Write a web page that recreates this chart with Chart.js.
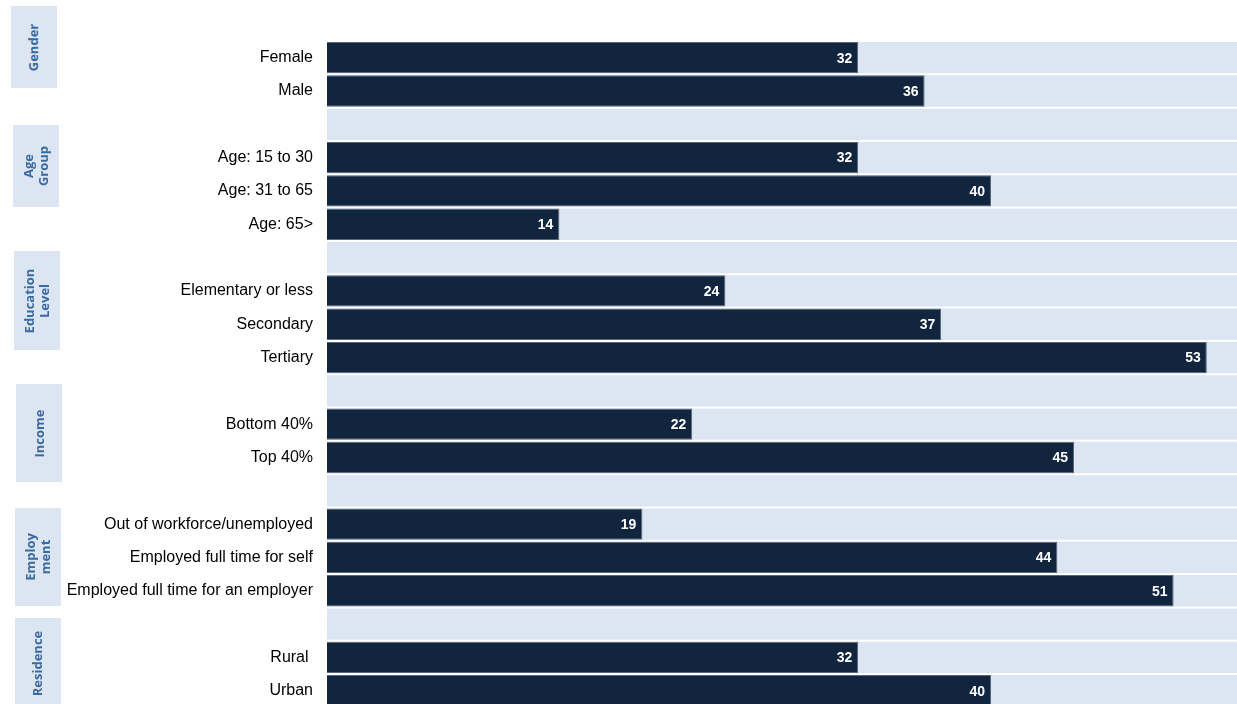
<!DOCTYPE html>
<html>
<head>
<meta charset="utf-8">
<script src="https://cdn.jsdelivr.net/npm/chart.js@4.4.1/dist/chart.umd.min.js"></script>
<style>
    html, body { margin: 0; padding: 0; background: #fff; overflow: hidden; }
    #wrap { position: relative; width: 1237px; height: 704px; overflow: hidden; }
    #chartBox { position: absolute; left: 0; top: 0; width: 1240px; height: 731px; }
    .group {
        position: absolute;
        background: #dce6f2;
        display: flex;
        align-items: center;
        justify-content: center;
    }
    .group span {
        transform: rotate(-90deg);
        white-space: nowrap;
        font-family: 'Open Sans', sans-serif;
        font-weight: 700;
        font-size: 13px;
        line-height: 15px;
        color: #3b6aa0;
        text-align: center;
    }
</style>
</head>
<body>
<div id="wrap">
    <div id="chartBox"><canvas id="chart"></canvas></div>
    <div class="group" style="left:11px;top:6px;width:46px;height:82px"><span>Gender</span></div>
    <div class="group" style="left:13px;top:125px;width:46px;height:82px"><span>Age<br>Group</span></div>
    <div class="group" style="left:14px;top:251px;width:46px;height:99px"><span>Education<br>Level</span></div>
    <div class="group" style="left:16px;top:384px;width:46px;height:98px"><span>Income</span></div>
    <div class="group" style="left:15px;top:508px;width:46px;height:98px"><span>Employ<br>ment</span></div>
    <div class="group" style="left:15px;top:618px;width:46px;height:90px"><span>Residence</span></div>
</div>
<script>
// Categories (blank strings are spacer rows between groups)
const categories = [
    'Female', 'Male', '',
    'Age: 15 to 30', 'Age: 31 to 65', 'Age: 65>', '',
    'Elementary or less', 'Secondary', 'Tertiary', '',
    'Bottom 40%', 'Top 40%', '',
    'Out of workforce/unemployed', 'Employed full time for self', 'Employed full time for an employer', '',
    'Rural ', 'Urban'
];

const values = [
    32, 36, null,
    32, 40, 14, null,
    24, 37, 53, null,
    22, 45, null,
    19, 44, 51, null,
    32, 40
];

const X_MAX = 55;
const bandValues = categories.map(() => X_MAX);

const BAR_COLOR = '#12253f';
const BAND_COLOR = '#dce6f2';

// value labels at the end of each bar
const valueLabels = {
    id: 'valueLabels',
    afterDatasetsDraw(chart) {
        const ctx = chart.ctx;
        const meta = chart.getDatasetMeta(1);
        ctx.save();
        ctx.font = 'bold 14px "Liberation Sans", Arial, sans-serif';
        ctx.fillStyle = '#ffffff';
        ctx.textAlign = 'right';
        ctx.textBaseline = 'middle';
        meta.data.forEach((bar, i) => {
            if (values[i] == null) return;
            ctx.fillText(String(values[i]), bar.x - 6, bar.y + 1);
        });
        ctx.restore();
    }
};

new Chart(document.getElementById('chart'), {
    type: 'bar',
    data: {
        labels: categories,
        datasets: [
            {
                label: 'band',
                data: bandValues,
                backgroundColor: BAND_COLOR,
                borderWidth: 0,
                grouped: false,
                order: 2,
                barPercentage: 1,
                categoryPercentage: 0.94
            },
            {
                label: 'value',
                data: values,
                backgroundColor: BAR_COLOR,
                borderColor: '#56667c',
                borderWidth: 1,
                grouped: false,
                order: 1,
                barPercentage: 1,
                categoryPercentage: 0.94
            }
        ]
    },
    options: {
        indexAxis: 'y',
        responsive: true,
        maintainAspectRatio: false,
        animation: false,
        layout: { padding: { top: 41, left: 0, right: 0, bottom: 0 } },
        plugins: {
            legend: { display: false },
            tooltip: { enabled: false }
        },
        scales: {
            x: {
                display: false,
                min: 0,
                max: X_MAX
            },
            y: {
                afterFit(scale) { scale.width = 327; },
                grid: { display: false, drawTicks: false },
                border: { display: false },
                ticks: {
                    padding: 14,
                    color: '#000000',
                    font: { family: '"Liberation Sans", Arial, sans-serif', size: 16 },
                    autoSkip: false
                }
            }
        }
    },
    plugins: [valueLabels]
});
</script>
</body>
</html>
